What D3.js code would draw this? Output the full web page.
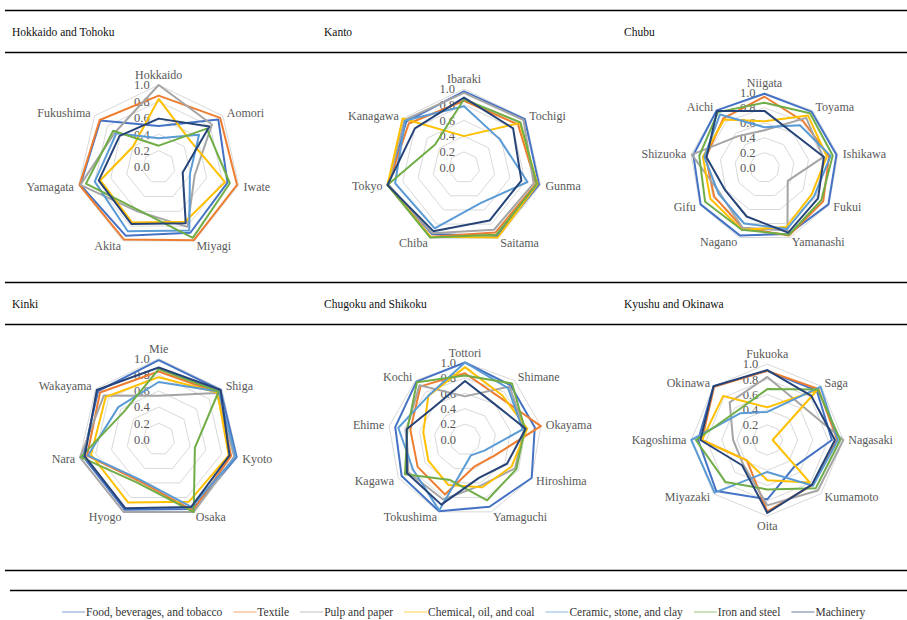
<!DOCTYPE html>
<html>
<head>
<meta charset="utf-8">
<script src="https://cdn.jsdelivr.net/npm/d3@7"></script>
<style>
  html, body { margin: 0; padding: 0; background: #fff; }
  svg { display: block; }
</style>
</head>
<body>
<svg id="chart" width="907" height="620" font-family="'Liberation Serif', 'Times New Roman', Times, 'DejaVu Serif', serif"></svg>
<script>
// Industries (one line per industry in every radar)
const seriesNames = [
  "Food, beverages, and tobacco", "Textile", "Pulp and paper",
  "Chemical, oil, and coal", "Ceramic, stone, and clay", "Iron and steel", "Machinery"
];
const seriesColors = ["#4472C4", "#ED7D31", "#A5A5A5", "#FFC000", "#5B9BD5", "#70AD47", "#264478"];

// Radial axis ticks
const tickValues = [0, 0.2, 0.4, 0.6, 0.8, 1.0];
const tickLabels = ["0.0", "0.2", "0.4", "0.6", "0.8", "1.0"];

// Regions
const regionNames = ["Hokkaido and Tohoku", "Kanto", "Chubu", "Kinki", "Chugoku and Shikoku", "Kyushu and Okinawa"];

// Hokkaido and Tohoku
const tohokuPrefs = ["Hokkaido", "Aomori", "Iwate", "Miyagi", "Akita", "Yamagata", "Fukushima"];
const tohokuValues = [
  [0.50, 0.93, 0.86, 0.89, 0.93, 0.98, 0.91],
  [0.87, 0.96, 0.98, 0.99, 0.98, 0.99, 0.92],
  [1.00, 0.83, 0.45, 0.81, 0.60, 0.98, 0.68],
  [0.83, 0.50, 0.83, 0.74, 0.75, 0.73, 0.40],
  [0.35, 0.63, 0.39, 0.86, 0.87, 0.80, 0.66],
  [0.26, 0.75, 0.89, 0.96, 0.58, 0.91, 0.71],
  [0.59, 0.79, 0.30, 0.76, 0.77, 0.75, 0.61]
];

// Kanto
const kantoPrefs = ["Ibaraki", "Tochigi", "Gunma", "Saitama", "Chiba", "Tokyo", "Kanagawa"];
const kantoValues = [
  [0.97, 0.99, 0.98, 0.97, 0.94, 0.99, 0.94],
  [0.85, 0.88, 0.94, 0.92, 0.98, 0.99, 0.90],
  [0.95, 0.97, 0.91, 0.88, 0.93, 0.99, 0.97],
  [0.40, 0.91, 0.96, 0.99, 0.98, 1.00, 1.00],
  [0.78, 0.58, 0.83, 0.50, 0.86, 0.90, 0.96],
  [0.87, 0.92, 0.95, 0.95, 0.99, 1.00, 0.47],
  [0.89, 0.80, 0.75, 0.75, 0.90, 1.00, 0.80]
];

// Chubu
const chubuPrefs = ["Niigata", "Toyama", "Ishikawa", "Fukui", "Yamanashi", "Nagano", "Gifu", "Shizuoka", "Aichi"];
const chubuValues = [
  [0.99, 0.98, 0.98, 0.99, 0.95, 0.97, 0.99, 0.97, 1.00],
  [0.95, 0.81, 0.88, 0.91, 0.97, 0.86, 0.78, 0.80, 0.86],
  [0.50, 0.87, 0.80, 0.36, 0.90, 0.86, 0.69, 0.99, 0.55],
  [0.62, 0.91, 0.85, 0.73, 0.85, 0.89, 0.84, 0.84, 0.84],
  [0.54, 0.74, 0.90, 0.77, 0.88, 0.80, 0.71, 0.82, 0.93],
  [0.87, 0.95, 0.93, 0.88, 0.96, 0.89, 0.92, 0.89, 0.97],
  [0.76, 0.60, 0.81, 0.83, 0.93, 0.70, 0.61, 0.79, 0.99]
];

// Kinki
const kinkiPrefs = ["Mie", "Shiga", "Kyoto", "Osaka", "Hyogo", "Nara", "Wakayama"];
const kinkiValues = [
  [0.98, 0.98, 0.99, 0.96, 0.97, 0.96, 0.96],
  [0.84, 0.93, 0.92, 0.98, 0.57, 0.91, 0.93],
  [0.54, 0.92, 0.96, 1.00, 1.00, 1.00, 0.87],
  [0.77, 0.93, 0.89, 0.86, 0.87, 0.86, 0.84],
  [0.71, 0.95, 0.98, 0.93, 0.55, 0.90, 0.64],
  [0.87, 0.95, 0.46, 1.00, 0.60, 0.99, 0.55],
  [0.89, 0.98, 0.90, 0.93, 0.95, 0.94, 0.98]
];

// Chugoku and Shikoku
const chugokuPrefs = ["Tottori", "Shimane", "Okayama", "Hiroshima", "Yamaguchi", "Tokushima", "Kagawa", "Ehime", "Kochi"];
const chugokuValues = [
  [1.00, 0.92, 0.92, 1.00, 0.93, 0.99, 0.95, 0.92, 0.98],
  [0.86, 0.71, 1.00, 0.43, 0.37, 0.76, 0.71, 0.72, 0.90],
  [0.56, 0.90, 0.78, 0.75, 0.63, 0.83, 0.85, 0.77, 0.92],
  [0.94, 0.75, 0.82, 0.70, 0.66, 0.63, 0.55, 0.55, 0.74],
  [1.00, 0.87, 0.76, 0.29, 0.22, 0.98, 0.78, 0.88, 0.74],
  [0.83, 0.95, 0.79, 0.77, 0.84, 0.56, 0.90, 0.76, 0.97],
  [0.76, 0.60, 0.80, 0.63, 0.53, 0.90, 0.87, 0.77, 0.58]
];

// Kyushu and Okinawa
const kyushuPrefs = ["Fukuoka", "Saga", "Nagasaki", "Kumamoto", "Oita", "Miyazaki", "Kagoshima", "Okinawa"];
const kyushuValues = [
  [0.91, 0.92, 0.85, 0.50, 0.78, 0.95, 0.91, 1.00],
  [0.91, 0.95, 0.92, 0.84, 0.94, 0.38, 0.86, 0.99],
  [0.83, 0.64, 1.00, 0.94, 0.86, 0.45, 0.45, 0.70],
  [0.43, 0.93, 0.07, 0.79, 0.53, 0.38, 0.86, 0.82],
  [0.37, 0.99, 0.93, 0.85, 0.42, 0.98, 1.00, 0.50],
  [0.67, 0.94, 0.96, 0.90, 0.65, 0.78, 0.94, 0.55],
  [0.92, 0.82, 0.89, 0.83, 0.96, 0.47, 0.88, 1.00]
];

const regionPrefs = [tohokuPrefs, kantoPrefs, chubuPrefs, kinkiPrefs, chugokuPrefs, kyushuPrefs];
const regionValues = [tohokuValues, kantoValues, chubuValues, kinkiValues, chugokuValues, kyushuValues];

// Panel geometry: radar centre and outer radius, title position
const panels = [
  { cx: 158.7, cy: 167.0, r: 82.0, tx: 12,  ty: 32 },
  { cx: 464.0, cy: 167.5, r: 78.5, tx: 324, ty: 32 },
  { cx: 764.5, cy: 167.5, r: 74.5, tx: 624, ty: 32 },
  { cx: 158.7, cy: 439.3, r: 80.7, tx: 12,  ty: 304 },
  { cx: 465.0, cy: 439.5, r: 77.0, tx: 324, ty: 304 },
  { cx: 767.3, cy: 440.0, r: 76.0, tx: 624, ty: 304 }
];

const svg = d3.select("#chart");

// Horizontal rules framing the title bands and the legend
const rules = [
  { y: 10.5, x1: 5 }, { y: 52.5, x1: 5 },
  { y: 282.5, x1: 5 }, { y: 324.5, x1: 5 },
  { y: 570.5, x1: 5 }, { y: 590.5, x1: 10 }
];
svg.selectAll("line.rule").data(rules).join("line")
  .attr("class", "rule")
  .attr("x1", d => d.x1).attr("x2", 907)
  .attr("y1", d => d.y).attr("y2", d => d.y)
  .attr("stroke", "#000").attr("stroke-width", 1.4);

regionNames.forEach((name, pi) => {
  const p = panels[pi];
  const prefs = regionPrefs[pi];
  const values = regionValues[pi];
  const n = prefs.length;

  svg.append("text")
    .attr("x", p.tx).attr("y", p.ty)
    .attr("dy", "0.35em")
    .attr("font-size", 11.5)
    .attr("fill", "#111")
    .text(name);

  const g = svg.append("g").attr("transform", `translate(${p.cx},${p.cy})`);
  const rScale = d3.scaleLinear().domain([0, 1]).range([0, p.r]);
  const angle = d3.scaleLinear().domain([0, n]).range([0, 2 * Math.PI]);

  // Grid rings
  const ring = d3.lineRadial()
    .angle((d, i) => angle(i))
    .radius(d => rScale(d))
    .curve(d3.curveLinearClosed);
  g.selectAll("path.grid").data(tickValues.filter(t => t > 0)).join("path")
    .attr("class", "grid")
    .attr("d", t => ring(d3.range(n).map(() => t)))
    .attr("fill", "none")
    .attr("stroke", "#d9d9d9")
    .attr("stroke-width", 1);

  // Radial tick labels along the first axis
  g.selectAll("text.tick").data(tickValues).join("text")
    .attr("class", "tick")
    .attr("x", -9)
    .attr("y", t => -rScale(t))
    .attr("dy", "0.35em")
    .attr("text-anchor", "end")
    .attr("font-size", 12.5)
    .attr("fill", "#595959")
    .text((t, i) => tickLabels[i]);

  // Category labels around the outside
  g.selectAll("text.cat").data(prefs).join("text")
    .attr("class", "cat")
    .each(function (d, i) {
      const a = angle(i);
      const s = Math.sin(a), c = Math.cos(a);
      const centred = Math.abs(s) < 0.15;
      const off = centred ? 10 : 5;
      const x = (p.r + off) * s;
      const y = -(p.r + off) * c;
      d3.select(this)
        .attr("x", x).attr("y", y)
        .attr("dy", "0.35em")
        .attr("text-anchor", centred ? "middle" : (s > 0 ? "start" : "end"));
    })
    .attr("font-size", 12)
    .attr("fill", "#595959")
    .text(d => d);

  // Series lines
  const line = d3.lineRadial()
    .angle((d, i) => angle(i))
    .radius(d => rScale(d))
    .curve(d3.curveLinearClosed);
  g.selectAll("path.series").data(values).join("path")
    .attr("class", "series")
    .attr("d", d => line(d))
    .attr("fill", "none")
    .attr("stroke", (d, i) => seriesColors[i])
    .attr("stroke-width", 2)
    .attr("stroke-linejoin", "round");
});

// Legend
const legend = svg.append("g").attr("class", "legend");
let lx = 62;
const ly = 612;
seriesNames.forEach((name, i) => {
  legend.append("line")
    .attr("x1", lx).attr("x2", lx + 23)
    .attr("y1", ly).attr("y2", ly)
    .attr("stroke", seriesColors[i])
    .attr("stroke-opacity", 0.7)
    .attr("stroke-width", 1);
  const t = legend.append("text")
    .attr("x", lx + 24).attr("y", ly)
    .attr("dy", "0.35em")
    .attr("font-size", 11.5)
    .attr("fill", "#333")
    .text(name);
  lx += 24 + t.node().getComputedTextLength() + 11;
});
</script>
</body>
</html>
